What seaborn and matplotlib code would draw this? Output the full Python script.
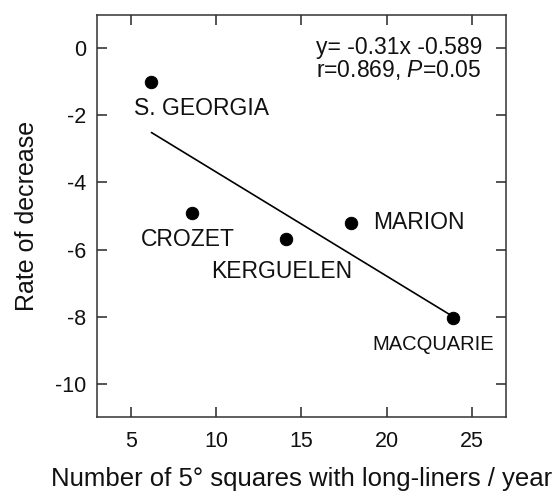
import numpy as np
import pandas as pd
import matplotlib
matplotlib.use("Agg")
import matplotlib.pyplot as plt
import seaborn as sns

# values
sites = ["S. GEORGIA", "CROZET", "KERGUELEN", "MARION", "MACQUARIE"]
squares = [6.2, 8.6, 14.1, 17.9, 23.9]
rate = [-1.0, -4.9, -5.7, -5.2, -8.05]
slope = -0.31
intercept = -0.589
x_ticks = [5, 10, 15, 20, 25]
y_ticks = [0, -2, -4, -6, -8, -10]

sns.set_style("ticks")
plt.rcParams['font.family'] = ['Liberation Sans', 'DejaVu Sans']
plt.rcParams['axes.unicode_minus'] = False
plt.rcParams['mathtext.fontset'] = 'custom'
plt.rcParams['mathtext.rm'] = 'Liberation Sans'
plt.rcParams['mathtext.it'] = 'Liberation Sans:italic'

df = pd.DataFrame({"site": sites, "x": squares, "y": rate})
xs = np.array([min(squares), max(squares)])
fit = pd.DataFrame({"x": xs, "y": slope * xs + intercept})

fig = plt.figure(figsize=(5.57, 4.92), dpi=100)
ax = fig.add_axes([0.174, 0.152, 0.734, 0.818])

sns.lineplot(data=fit, x="x", y="y", ax=ax, color="black", lw=1.2)
sns.scatterplot(data=df, x="x", y="y", ax=ax, color="black", s=80, edgecolor="black", zorder=3)

# label offsets (points) and sizes for each site
offsets = {"S. GEORGIA": (36, -19.5, "center", 16.5),
           "CROZET": (-3.5, -19, "center", 16.5),
           "KERGUELEN": (-3, -23, "center", 16.5),
           "MARION": (16, 0, "left", 16.5),
           "MACQUARIE": (-14, -19, "center", 14.5)}
for s, xv, yv in zip(sites, squares, rate):
    dx, dy, ha, fs = offsets[s]
    ax.annotate(s, (xv, yv), xytext=(dx, dy), textcoords="offset points",
                ha=ha, va="center", fontsize=fs, color="#111111")

ax.text(0.942, 0.948, "y= -0.31x -0.589\nr=0.869, $\\it{P}$=0.05", transform=ax.transAxes,
        ha="right", va="top", multialignment="left", fontsize=16.5, linespacing=0.95,
        color="#111111")

ax.set_xlim(3, 27)
ax.set_ylim(-11, 1)
ax.set_xticks(x_ticks)
ax.set_yticks(y_ticks)
ax.tick_params(direction="in", length=7, width=1.1, top=True, right=True,
               labelsize=15.5, labelcolor="#111111")
ax.tick_params(axis="y", pad=8)
ax.tick_params(axis="x", pad=10)
for sp in ax.spines.values():
    sp.set_visible(True)
    sp.set_linewidth(1.1)
    sp.set_color("#333333")

ax.set_xlabel("Number of 5° squares with long-liners / year", fontsize=18.5, labelpad=11, color="#111111")
ax.set_ylabel("Rate of decrease", fontsize=18, labelpad=11, color="#111111")

fig.savefig("out.png", dpi=100)
